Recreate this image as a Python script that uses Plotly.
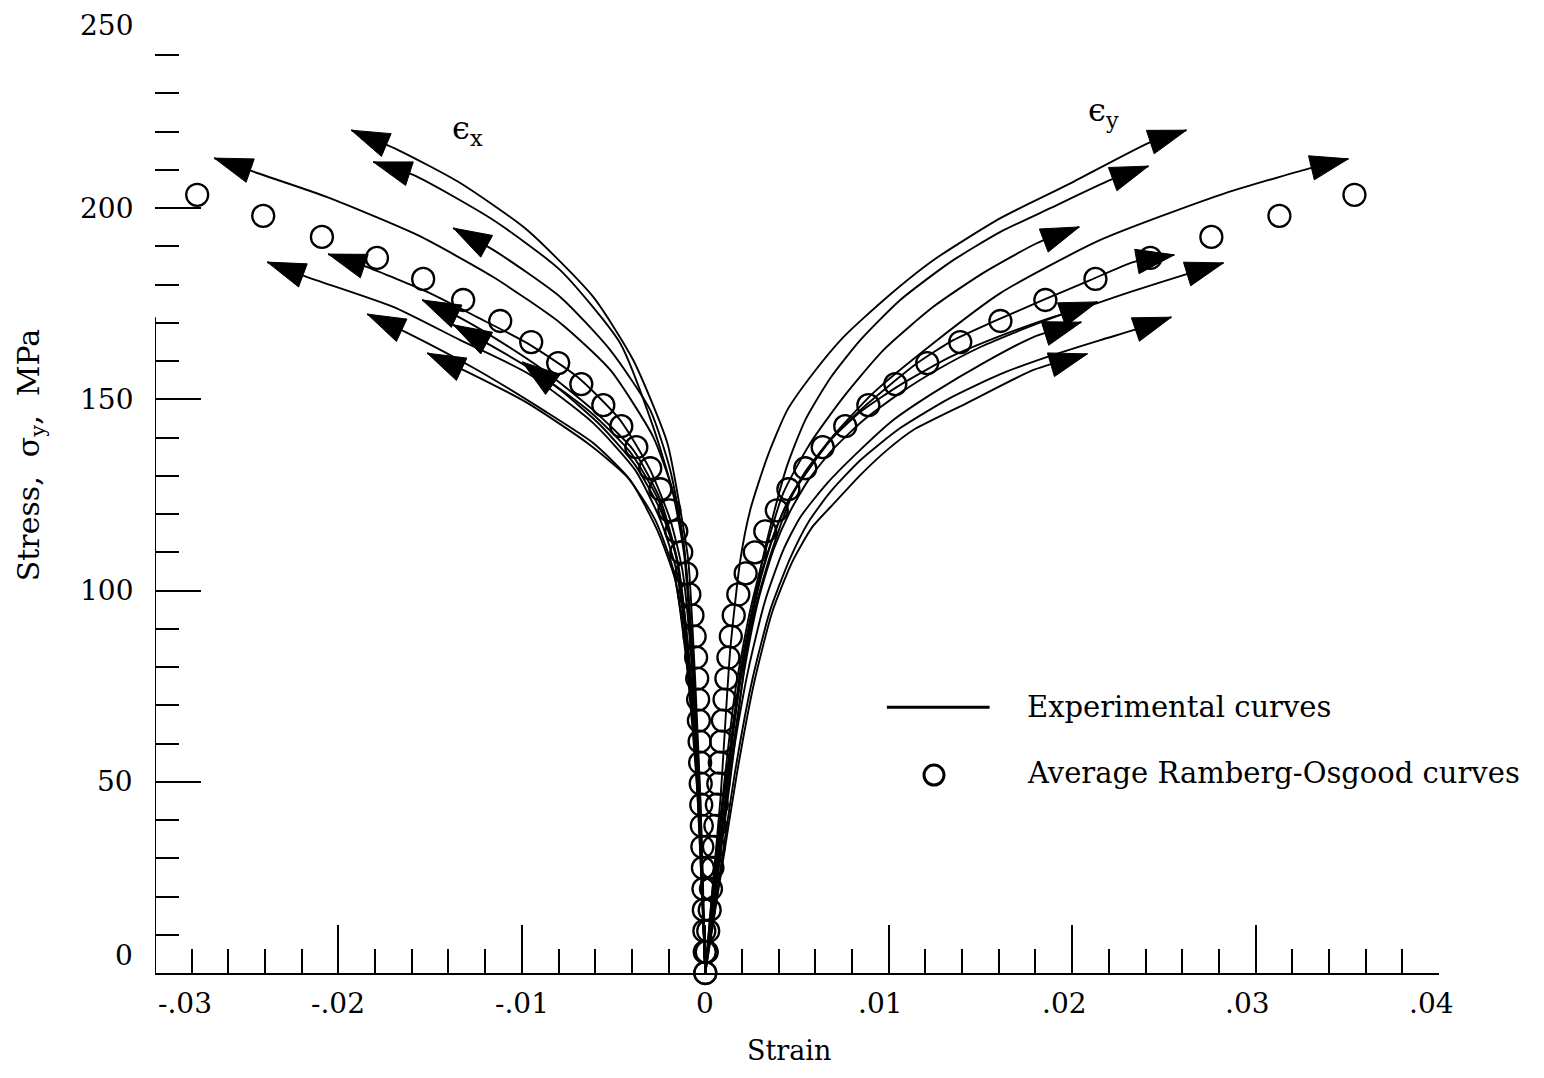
import plotly.graph_objects as go

# ---------------- data ----------------
# Average Ramberg-Osgood points (stress in MPa)
ro_stress = [0, 5.5, 11, 16.5, 22, 27.5, 33, 38.5, 44, 49.5, 55, 60.5, 66, 71.5, 77, 82.5,
             88, 93.5, 99, 104.5, 110, 115.5, 121, 126.5, 132, 137.5, 143, 148.5, 154,
             159.5, 165, 170.5, 176, 181.5, 187, 192.5, 198, 203.5]
ro_eps_y = [0.0, 0.00008, 0.00016, 0.00024, 0.00031, 0.00039, 0.00047, 0.00055, 0.00063,
            0.00071, 0.00079, 0.00087, 0.00096, 0.00105, 0.00115, 0.00126, 0.00139, 0.00155,
            0.00180, 0.00220, 0.00270, 0.00327, 0.00390, 0.00453, 0.00545, 0.00640, 0.00763,
            0.00889, 0.01036, 0.01210, 0.01390, 0.01609, 0.01854, 0.02127, 0.02426, 0.02759,
            0.03130, 0.03539]
ro_eps_x = [0.0, -0.00003, -0.00005, -0.00008, -0.00010, -0.00013, -0.00016, -0.00019,
            -0.00022, -0.00025, -0.00028, -0.00031, -0.00035, -0.00039, -0.00044, -0.00050,
            -0.00058, -0.00070, -0.00087, -0.00104, -0.00131, -0.00158, -0.00196, -0.00245,
            -0.00300, -0.00376, -0.00458, -0.00556, -0.00676, -0.00802, -0.00949, -0.01118,
            -0.01320, -0.01538, -0.01790, -0.02090, -0.02410, -0.02770]

# Experimental curves, epsilon_x (strain, stress), listed from arrow tip to origin
ex_A_strain = [-0.01930, -0.01674, -0.01336, -0.00971, -0.00611, -0.00393, -0.00207, -0.00136, -0.00093, -0.00055, -0.00027, 0.0]
ex_A_stress = [220.4, 215.2, 206.6, 194.3, 176.8, 160.3, 138.6, 121.1, 108.0, 76.6, 45.2, 0]
ex_B_strain = [-0.01810, -0.01592, -0.01156, -0.00791, -0.00464, -0.00284, -0.00180, -0.00115, -0.00065, -0.00027, 0.0]
ex_B_stress = [212.1, 208.7, 196.9, 183.8, 164.7, 142.8, 126.3, 109.3, 76.6, 45.2, 0]
ex_C_strain = [-0.02677, -0.02443, -0.02061, -0.01570, -0.01156, -0.00791, -0.00518, -0.00284, -0.00174, -0.00115, -0.00071, -0.00038, 0.0]
ex_C_stress = [213.1, 209.2, 202.9, 193.0, 182.0, 170.0, 157.7, 140.2, 125.5, 110.6, 84.5, 50.5, 0]
ex_D_strain = [-0.01374, -0.01156, -0.00791, -0.00518, -0.00300, -0.00191, -0.00120, -0.00071, -0.00033, 0.0]
ex_D_stress = [194.8, 189.1, 176.8, 162.9, 147.2, 131.5, 113.2, 84.5, 45.2, 0]
ex_E_strain = [-0.02056, -0.01843, -0.01516, -0.01243, -0.00971, -0.00698, -0.00464, -0.00300, -0.00191, -0.00125, -0.00076, -0.00038, 0.0]
ex_E_stress = [188.0, 184.6, 178.1, 171.5, 164.7, 155.9, 144.6, 131.5, 118.5, 105.4, 81.9, 47.9, 0]
ex_F_strain = [-0.02388, -0.02170, -0.01701, -0.01336, -0.00971, -0.00611, -0.00382, -0.00245, -0.00158, -0.00093, -0.00044, 0.0]
ex_F_stress = [185.9, 182.0, 174.2, 165.5, 156.9, 143.8, 131.5, 118.5, 105.4, 81.9, 47.9, 0]
ex_G_strain = [-0.01543, -0.01336, -0.01156, -0.00883, -0.00611, -0.00393, -0.00245, -0.00153, -0.00087, -0.00038, 0.0]
ex_G_stress = [176.0, 171.3, 166.3, 157.7, 147.2, 136.8, 123.7, 108.0, 81.9, 47.9, 0]
ex_H_strain = [-0.01843, -0.01625, -0.01243, -0.00883, -0.00611, -0.00409, -0.00262, -0.00164, -0.00093, -0.00038, 0.0]
ex_H_stress = [172.3, 167.4, 157.7, 147.2, 138.6, 128.9, 115.8, 102.8, 79.2, 45.2, 0]
ex_I_strain = [-0.01516, -0.01298, -0.00971, -0.00643, -0.00425, -0.00273, -0.00174, -0.00104, -0.00044, 0.0]
ex_I_stress = [162.1, 157.2, 149.1, 138.6, 129.7, 118.5, 105.4, 81.9, 47.9, 0]
ex_K_strain = [-0.00998, -0.00791, -0.00573, -0.00382, -0.00245, -0.00153, -0.00087, -0.00038, 0.0]
ex_K_stress = [159.8, 152.5, 143.3, 132.8, 121.1, 108.0, 81.9, 47.9, 0]
ex_L_strain = [-0.01374, -0.01172, -0.00900, -0.00627, -0.00409, -0.00256, -0.00158, -0.00093, -0.00038, 0.0]
ex_L_stress = [169.5, 164.2, 156.4, 146.7, 136.2, 123.7, 108.5, 81.9, 47.9, 0]

# Experimental curves, epsilon_y (strain, stress), listed from arrow tip to origin
ey_a_strain = [0.02623, 0.02427, 0.01974, 0.01609, 0.01243, 0.00992, 0.00753, 0.00589, 0.00447, 0.00338, 0.00245, 0.00191, 0.00136, 0.00082, 0.0]
ey_a_stress = [220.4, 217.3, 206.1, 197.4, 186.4, 176.8, 166.3, 156.9, 147.2, 134.9, 121.1, 108.0, 84.5, 45.2, 0]
ey_b_strain = [0.02416, 0.02209, 0.01881, 0.01609, 0.01336, 0.01063, 0.00845, 0.00682, 0.00545, 0.00447, 0.00371, 0.00300, 0.00218, 0.00136, 0.0]
ey_b_stress = [211.0, 207.4, 200.0, 193.8, 185.9, 176.0, 165.5, 155.6, 144.6, 132.8, 119.8, 105.4, 81.9, 50.5, 0]
ey_c_strain = [0.03506, 0.03299, 0.02808, 0.02154, 0.01609, 0.01243, 0.00916, 0.00665, 0.00480, 0.00382, 0.00284, 0.00191, 0.00109, 0.0]
ey_c_stress = [212.9, 210.5, 203.5, 191.7, 177.8, 164.7, 151.7, 138.6, 125.5, 113.2, 97.5, 76.6, 45.2, 0]
ey_d_strain = [0.02039, 0.01810, 0.01516, 0.01243, 0.00971, 0.00753, 0.00573, 0.00425, 0.00344, 0.00245, 0.00164, 0.00093, 0.0]
ey_d_stress = [195.1, 190.9, 183.1, 174.2, 162.9, 150.6, 138.6, 125.5, 113.2, 94.9, 74.0, 45.2, 0]
ey_e_strain = [0.02557, 0.02334, 0.02099, 0.01843, 0.01554, 0.01352, 0.01156, 0.00992, 0.00845, 0.00698, 0.00573, 0.00463, 0.00382, 0.00300, 0.00218, 0.00136, 0.00060, 0.0]
ey_e_stress = [187.8, 185.9, 181.2, 176.0, 170.0, 165.5, 159.5, 153.2, 147.2, 140.2, 132.3, 124.5, 115.8, 102.8, 84.5, 58.3, 32.2, 0]
ey_f_strain = [0.02825, 0.02607, 0.02318, 0.02138, 0.01881, 0.01609, 0.01336, 0.01063, 0.00845, 0.00682, 0.00551, 0.00442, 0.00354, 0.00273, 0.00196, 0.00120, 0.00055, 0.0]
ey_f_stress = [185.7, 182.5, 178.1, 175.2, 171.3, 166.6, 161.1, 153.8, 146.7, 139.4, 131.5, 122.4, 111.9, 98.8, 80.5, 53.1, 26.9, 0]
ey_g_strain = [0.02138, 0.01936, 0.01718, 0.01500, 0.01281, 0.01063, 0.00856, 0.00693, 0.00562, 0.00458, 0.00371, 0.00289, 0.00213, 0.00131, 0.00060, 0.0]
ey_g_stress = [175.5, 172.1, 168.1, 163.7, 158.2, 151.7, 144.3, 136.8, 128.9, 120.3, 110.6, 97.5, 79.2, 51.8, 26.9, 0]
ey_h_strain = [0.02050, 0.01789, 0.01516, 0.01243, 0.01025, 0.00845, 0.00665, 0.00518, 0.00425, 0.00327, 0.00234, 0.00147, 0.00071, 0.0]
ey_h_stress = [170.2, 166.3, 159.5, 151.7, 144.6, 136.8, 128.1, 119.2, 110.6, 97.5, 79.2, 55.7, 29.5, 0]
ey_i_strain = [0.02541, 0.02334, 0.02154, 0.01865, 0.01609, 0.01336, 0.01063, 0.00845, 0.00682, 0.00562, 0.00463, 0.00354, 0.00256, 0.00164, 0.00082, 0.0]
ey_i_stress = [171.5, 168.1, 165.5, 161.1, 156.6, 150.4, 142.5, 134.1, 125.8, 117.9, 108.5, 94.9, 76.6, 53.1, 26.9, 0]
ey_j_strain = [0.02083, 0.01789, 0.01429, 0.01134, 0.00992, 0.00845, 0.00709, 0.00583, 0.00474, 0.00365, 0.00267, 0.00174, 0.00087, 0.0]
ey_j_stress = [161.9, 157.7, 149.1, 142.0, 136.8, 130.2, 123.2, 116.6, 107.5, 94.4, 76.1, 52.6, 26.4, 0]

exp_curves = [
    (ex_A_strain, ex_A_stress), (ex_B_strain, ex_B_stress), (ex_C_strain, ex_C_stress),
    (ex_D_strain, ex_D_stress), (ex_E_strain, ex_E_stress), (ex_F_strain, ex_F_stress),
    (ex_G_strain, ex_G_stress), (ex_H_strain, ex_H_stress), (ex_I_strain, ex_I_stress),
    (ex_K_strain, ex_K_stress), (ex_L_strain, ex_L_stress),
    (ey_a_strain, ey_a_stress), (ey_b_strain, ey_b_stress), (ey_c_strain, ey_c_stress),
    (ey_d_strain, ey_d_stress), (ey_e_strain, ey_e_stress), (ey_f_strain, ey_f_stress),
    (ey_g_strain, ey_g_stress), (ey_h_strain, ey_h_stress), (ey_i_strain, ey_i_stress),
    (ey_j_strain, ey_j_stress),
]

x_tick_vals = [-0.03, -0.02, -0.01, 0, 0.01, 0.02, 0.03, 0.04]
x_tick_text = ["-.03", "-.02", "-.01", "0", ".01", ".02", ".03", ".04"]
y_tick_vals = [0, 50, 100, 150, 200, 250]
y_tick_text = ["0", "50", "100", "150", "200", "250"]

FONT = "DejaVu Serif"
FS = 28

fig = go.Figure()

for sx, sy in exp_curves:
    xs = list(reversed(sx))
    ys = list(reversed(sy))
    fig.add_trace(go.Scatter(
        x=xs, y=ys, mode="lines",
        line=dict(color="black", width=1.9, shape="spline", smoothing=0.6),
        showlegend=False, hoverinfo="skip", cliponaxis=False,
    ))
    # arrowhead at the end of each curve, oriented along the last segment
    fig.add_trace(go.Scatter(
        x=xs[-2:], y=ys[-2:], mode="markers",
        marker=dict(symbol=["circle", "arrow"], size=[0, 40], angleref="previous",
                    color="black", opacity=1, line=dict(color="black", width=1)),
        showlegend=False, hoverinfo="skip", cliponaxis=False,
    ))

for ex in (ro_eps_x, ro_eps_y):
    fig.add_trace(go.Scatter(
        x=ex, y=ro_stress, mode="markers",
        marker=dict(symbol="circle-open", size=22, color="black", line=dict(width=2.3)),
        showlegend=False, hoverinfo="skip", cliponaxis=False,
    ))

annotations = []
for v, t in zip(x_tick_vals, x_tick_text):
    shift = 0
    if t.startswith("."):
        shift = -8
    if v == -0.03:
        shift = 30
    annotations.append(dict(x=v, y=-0.032, xref="x", yref="paper", text=t, showarrow=False,
                            xanchor="center", yanchor="middle", xshift=shift,
                            font=dict(family=FONT, size=FS, color="black")))
for v, t in zip(y_tick_vals, y_tick_text):
    yshift = 0
    if v == 0:
        yshift = 18
    if v == 250:
        yshift = -8
    annotations.append(dict(x=0, y=v, xref="paper", yref="y", text=t, showarrow=False,
                            xanchor="right", yanchor="middle", xshift=-20, yshift=yshift,
                            font=dict(family=FONT, size=FS, color="black")))

annotations += [
    dict(x=0.494, y=-0.081, xref="paper", yref="paper", text="Strain", showarrow=False,
         xanchor="center", yanchor="middle", borderpad=0,
         font=dict(family=FONT, size=27, color="black")),
    dict(x=-0.097, y=0.542, xref="paper", yref="paper", text="Stress,  σ<sub>y</sub>,  MPa",
         showarrow=False, textangle=-90, xanchor="center", yanchor="middle", borderpad=0,
         font=dict(family=FONT, size=30, color="black")),
    dict(x=-0.01298, y=220.4, xref="x", yref="y", text="ϵ<sub>x</sub>", showarrow=False,
         font=dict(family=FONT, size=32, color="black")),
    dict(x=0.0217, y=225.2, xref="x", yref="y", text="ϵ<sub>y</sub>", showarrow=False,
         font=dict(family=FONT, size=32, color="black")),
    dict(x=0.6776, y=0.278, xref="paper", yref="paper", text="Experimental curves",
         showarrow=False, xanchor="left", yanchor="middle",
         font=dict(family=FONT, size=29, color="black")),
    dict(x=0.6776, y=0.2092, xref="paper", yref="paper", text="Average Ramberg-Osgood curves",
         showarrow=False, xanchor="left", yanchor="middle",
         font=dict(family=FONT, size=29, color="black")),
]

shapes = [
    # partial left axis line
    dict(type="line", xref="x", yref="y", x0=-0.03, x1=-0.03, y0=0, y1=171.5,
         line=dict(color="black", width=2)),
    # legend line sample
    dict(type="line", xref="paper", yref="paper", x0=0.570, x1=0.650, y0=0.278, y1=0.278,
         line=dict(color="black", width=3)),
    # legend circle sample
    dict(type="circle", xref="paper", yref="paper", xsizemode="pixel", ysizemode="pixel",
         xanchor=0.6067, yanchor=0.2071, x0=-10, x1=10, y0=-10, y1=10,
         line=dict(color="black", width=3)),
]

fig.update_layout(
    width=1528, height=1062,
    margin=dict(l=147, r=97, t=9, b=97),
    paper_bgcolor="white", plot_bgcolor="white",
    font=dict(family=FONT, size=FS, color="black"),
    annotations=annotations, shapes=shapes, showlegend=False,
    xaxis=dict(range=[-0.03, 0.04], showgrid=False, zeroline=False, showline=True,
               linecolor="black", linewidth=2, ticks="inside", ticklen=48, tickwidth=2,
               tickcolor="black", tick0=-0.03, dtick=0.01, showticklabels=False,
               minor=dict(ticks="inside", ticklen=24, tickwidth=2, tickcolor="black",
                          dtick=0.002, tick0=0, showgrid=False)),
    yaxis=dict(range=[0, 250], showgrid=False, zeroline=False, showline=False,
               ticks="inside", ticklen=46, tickwidth=2, tickcolor="black",
               tick0=0, dtick=50, showticklabels=False,
               minor=dict(ticks="inside", ticklen=24, tickwidth=2, tickcolor="black",
                          dtick=10, tick0=0, showgrid=False)),
)

fig.write_html("out.html")
